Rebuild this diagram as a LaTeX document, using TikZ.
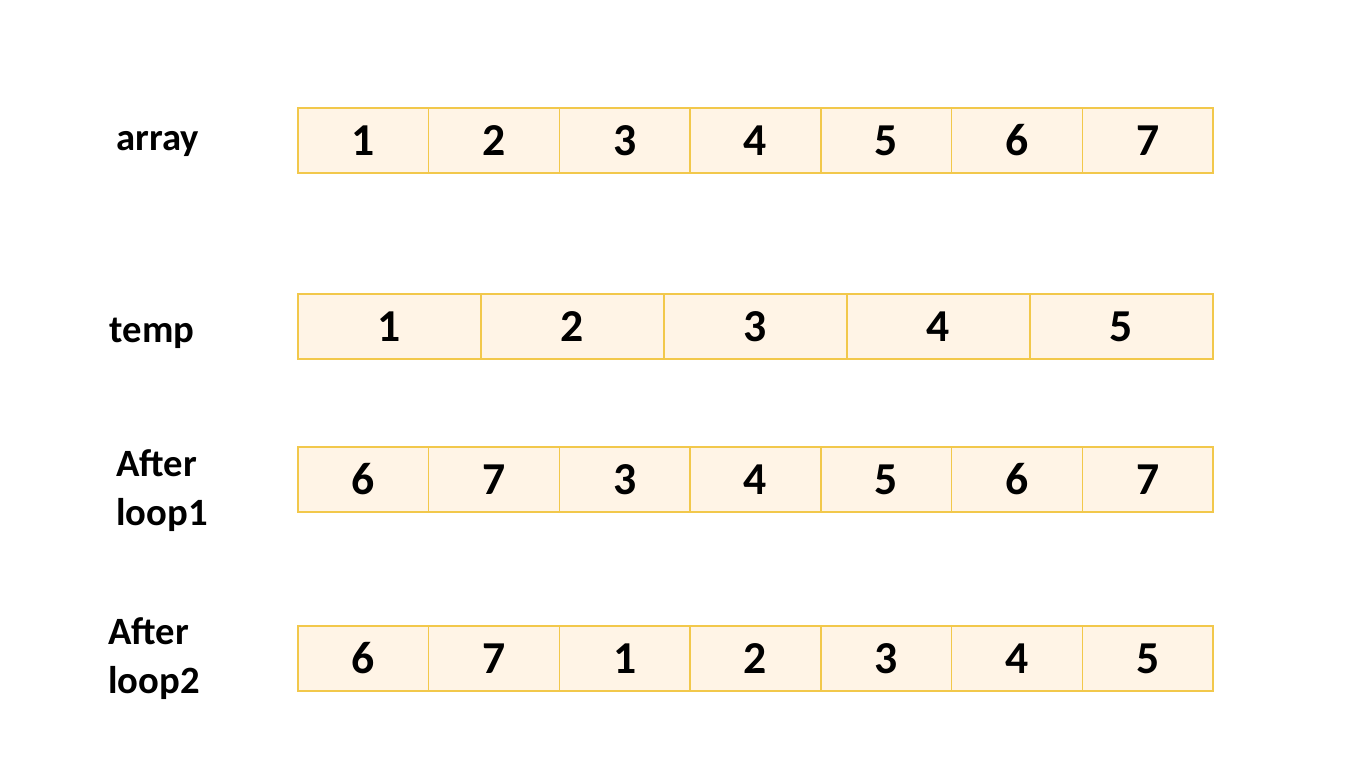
\documentclass[tikz,border=0pt]{standalone}
\usepackage{fontspec}
\setmainfont{Carlito}
\definecolor{cellfill}{HTML}{FFF4E6}
\definecolor{celledge}{HTML}{F2C84B}

\begin{document}
\begin{tikzpicture}[x=0.02cm,y=-0.02cm,font=\bfseries,
  cell/.style={draw=celledge,fill=cellfill,line width=0.8pt,inner sep=0pt,
    minimum height=1.3cm,font=\bfseries\fontsize{26}{30}\selectfont},
  narrow/.style={cell,minimum width=2.614cm},
  wide/.style={cell,minimum width=3.66cm},
  rowname/.style={align=left,font=\bfseries\fontsize{22}{28}\selectfont}]
\useasboundingbox (0,0) rectangle (1358,759);

% Row labels:
\node [rowname] (l_array) at (158,144) {array};
\node [rowname] (l_temp) at (152,333) {temp};
\node [rowname,right] (l_loop1) at (110,491) {After\\loop1};
\node [rowname,right] (l_loop2) at (102,659) {After\\loop2};

% Cells:
\foreach \v [count=\i] in {1,2,3,4,5,6,7}
  \node [narrow] (a\i) at ({298+130.71*(\i-0.5)},140.5) {\v};

\foreach \v [count=\i] in {1,2,3,4,5}
  \node [wide] (t\i) at ({298+183*(\i-0.5)},326.5) {\v};

\foreach \v [count=\i] in {6,7,3,4,5,6,7}
  \node [narrow] (p\i) at ({298+130.71*(\i-0.5)},479.5) {\v};

\foreach \v [count=\i] in {6,7,1,2,3,4,5}
  \node [narrow] (q\i) at ({298+130.71*(\i-0.5)},658.5) {\v};
\end{tikzpicture}
\end{document}
